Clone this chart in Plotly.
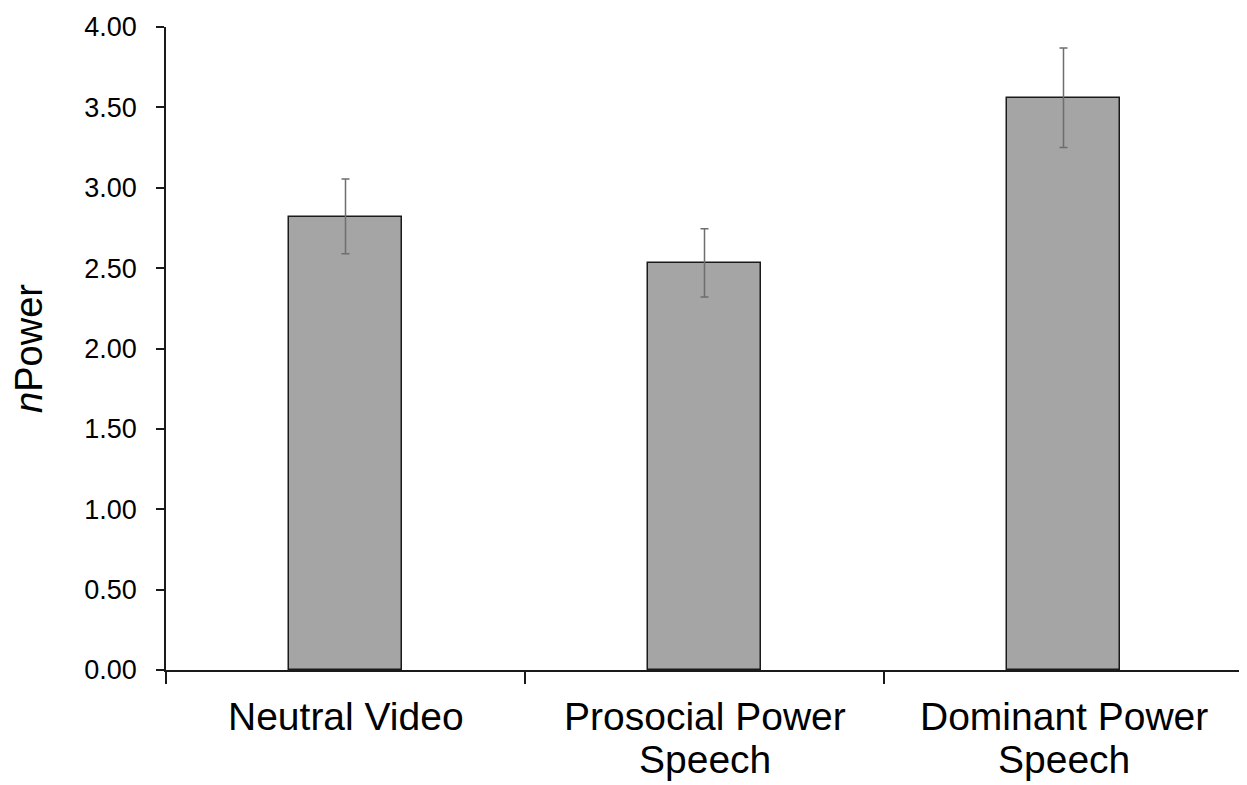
import plotly.graph_objects as go

categories = ["Neutral Video", "Prosocial Power Speech", "Dominant Power Speech"]
label_line1 = ["Neutral Video", "Prosocial Power", "Dominant Power"]
label_line2 = ["", "Speech", "Speech"]
means = [2.82, 2.53, 3.56]
err_plus = [0.235, 0.215, 0.31]
err_minus = [0.23, 0.21, 0.31]
y_ticks = [0, 0.5, 1.0, 1.5, 2.0, 2.5, 3.0, 3.5, 4.0]
y_tick_labels = [f"{v:.2f}" for v in y_ticks]

FONT = "Liberation Sans, Arial, sans-serif"

fig = go.Figure()
fig.add_trace(go.Bar(
    x=categories,
    y=means,
    width=0.315,
    marker=dict(color="#a5a5a5", line=dict(color="#1a1a1a", width=1.5)),
    error_y=dict(type="data", symmetric=False, array=err_plus, arrayminus=err_minus,
                 color="#6e6e6e", thickness=1.5, width=4),
    showlegend=False,
))

# category labels, line by line (tight line spacing as in the reference)
for cat, l1, l2 in zip(categories, label_line1, label_line2):
    fig.add_annotation(x=cat, xref="x", y=0, yref="paper", yanchor="top",
                       text=l1, showarrow=False, yshift=-24, borderpad=0,
                       font=dict(size=39, family=FONT, color="black"))
    if l2:
        fig.add_annotation(x=cat, xref="x", y=0, yref="paper", yanchor="top",
                           text=l2, showarrow=False, yshift=-67, borderpad=0,
                           font=dict(size=39, family=FONT, color="black"))

fig.update_layout(
    width=1239, height=777,
    margin=dict(l=158, r=4, t=15, b=115),
    paper_bgcolor="white", plot_bgcolor="white",
    font=dict(family=FONT, color="black"),
    bargap=0,
)
fig.update_xaxes(
    type="category",
    range=[-0.5, 2.5],
    showline=True, linecolor="#1a1a1a", linewidth=1.5,
    ticks="outside", tickson="boundaries", ticklen=12, tickwidth=1.5, tickcolor="#1a1a1a",
    showticklabels=False,
    showgrid=False, zeroline=False,
)
fig.update_yaxes(
    range=[0, 4],
    tickvals=y_ticks, ticktext=y_tick_labels,
    showline=True, linecolor="#1a1a1a", linewidth=1.5,
    ticks="outside", ticklen=8, tickwidth=1.5, tickcolor="#1a1a1a",
    tickfont=dict(size=27, family=FONT, color="black"),
    ticklabelstandoff=14,
    showgrid=False, zeroline=False,
    title=dict(text="<i>n</i>Power", font=dict(size=38, family=FONT, color="black"), standoff=44),
)

fig.write_html("out.html")
